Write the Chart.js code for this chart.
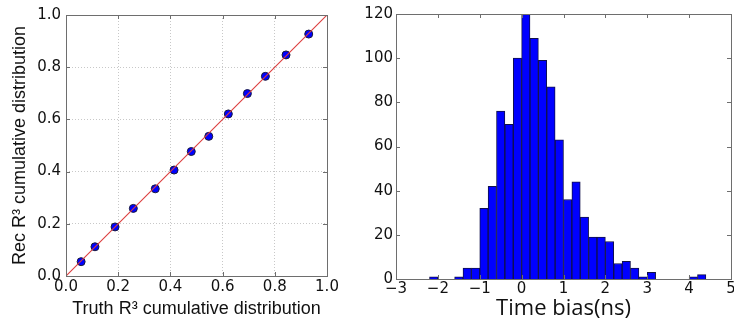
<!DOCTYPE html>
<html><head><meta charset="utf-8">
<script src="https://cdn.jsdelivr.net/npm/chart.js@4/dist/chart.umd.min.js"></script>
<style>
html,body{margin:0;padding:0;background:#fff;}
#wrap{position:relative;width:734px;height:325px;overflow:hidden;}
#c1{position:absolute;left:0;top:0;}
#c2{position:absolute;left:340px;top:0;}
</style></head><body>
<div id="wrap"><canvas id="c1" width="340" height="325"></canvas><canvas id="c2" width="394" height="325"></canvas></div>
<script>
// Left panel: cumulative distribution comparison
const truthCdf = [0.058,0.111,0.188,0.258,0.342,0.414,0.480,0.547,0.622,0.695,0.764,0.843,0.930];
const recCdf   = [0.055,0.112,0.188,0.259,0.334,0.406,0.477,0.535,0.621,0.699,0.765,0.847,0.927];
const diagX = [0, 1];
const diagY = [0, 1];
const cdfTicks = [0, 0.2, 0.4, 0.6, 0.8, 1.0];

// Right panel: time bias histogram (bin width 0.2 ns)
const binLeftEdges = [-2.2,-2.0,-1.8,-1.6,-1.4,-1.2,-1.0,-0.8,-0.6,-0.4,-0.2,0.0,0.2,0.4,0.6,0.8,1.0,1.2,1.4,1.6,1.8,2.0,2.2,2.4,2.6,2.8,3.0,3.2,3.4,3.6,3.8,4.0,4.2];
const binCounts    = [1,0,0,1,5,5,32,42,76,70,100,120,109,99,87,63,36,44,28,19,19,17,7,8,5,1,3,0,0,0,0,1,2];
const binWidth = 0.2;
const biasTicks = [-3,-2,-1,0,1,2,3,4,5];
const countTicks = [0,20,40,60,80,100,120];

const boxAndTicks = {
  id: 'boxAndTicks',
  afterDatasetsDraw(chart) {
    const {ctx, chartArea: a, scales: {x, y}} = chart;
    ctx.save();
    ctx.strokeStyle = '#6e6e6e';
    ctx.lineWidth = 1;
    const L = 4;
    ctx.beginPath();
    x.ticks.forEach(t => {
      const p = Math.round(x.getPixelForValue(t.value)) + 0.5;
      ctx.moveTo(p, a.bottom); ctx.lineTo(p, a.bottom - L);
      ctx.moveTo(p, a.top); ctx.lineTo(p, a.top + L);
    });
    y.ticks.forEach(t => {
      const p = Math.round(y.getPixelForValue(t.value)) + 0.5;
      ctx.moveTo(a.left, p); ctx.lineTo(a.left + L, p);
      ctx.moveTo(a.right, p); ctx.lineTo(a.right - L, p);
    });
    ctx.stroke();
    ctx.strokeRect(Math.round(a.left) + 0.5, Math.round(a.top) + 0.5, Math.round(a.right - a.left), Math.round(a.bottom - a.top));
    ctx.restore();
  }
};

const tickFont = {family: 'DejaVu Sans', size: 15};
const minus = v => String(v).replace('-', '\u2212');

new Chart(document.getElementById('c1'), {
  type: 'scatter',
  data: {
    datasets: [
      {
        type: 'line',
        data: diagX.map((v, i) => ({x: v, y: diagY[i]})),
        borderColor: '#dc3c3c',
        borderWidth: 1.1,
        pointRadius: 0,
        showLine: true,
        fill: false
      },
      {
        data: truthCdf.map((v, i) => ({x: v, y: recCdf[i]})),
        backgroundColor: '#0000ff',
        borderColor: '#1a1a3a',
        borderWidth: 1,
        pointRadius: 4
      }
    ]
  },
  options: {
    responsive: false,
    animation: false,
    events: [],
    layout: {padding: {left: 0, top: 15, right: 13, bottom: 0}},
    plugins: {legend: {display: false}, tooltip: {enabled: false}},
    scales: {
      x: {
        type: 'linear', min: 0, max: 1,
        afterBuildTicks: s => { s.ticks = cdfTicks.map(v => ({value: v})); },
        afterFit: s => { s.height = 49; s.paddingLeft = 0; s.paddingRight = 0; },
        grid: {color: '#c8c8c8', drawTicks: false, tickLength: 0},
        border: {display: false, dash: [1, 2]},
        ticks: {font: tickFont, color: '#111', padding: 2, maxRotation: 0, autoSkip: false,
                callback: v => v.toFixed(1)},
        title: {display: true, text: 'Truth R\u00b3 cumulative distribution',
                font: {family: 'Liberation Sans', size: 18}, color: '#111', padding: {top: 0, bottom: 5}}
      },
      y: {
        type: 'linear', min: 0, max: 1,
        afterBuildTicks: s => { s.ticks = cdfTicks.map(v => ({value: v})); },
        afterFit: s => { s.width = 66; s.paddingTop = 0; s.paddingBottom = 0; },
        grid: {color: '#c8c8c8', drawTicks: false, tickLength: 0},
        border: {display: false, dash: [1, 2]},
        ticks: {font: tickFont, color: '#111', padding: 5, autoSkip: false,
                callback: v => v.toFixed(1)},
        title: {display: true, text: 'Rec R\u00b3 cumulative distribution',
                font: {family: 'Liberation Sans', size: 18}, color: '#111', padding: {top: 9, bottom: 0}}
      }
    }
  },
  plugins: [boxAndTicks]
});

const histData = [];
binLeftEdges.forEach((e, i) => {
  if (binCounts[i] > 0) histData.push({x: +(e + binWidth / 2).toFixed(3), y: binCounts[i]});
});

new Chart(document.getElementById('c2'), {
  type: 'bar',
  data: {
    datasets: [{
      data: histData,
      backgroundColor: '#0000ff',
      borderColor: '#10104a',
      borderWidth: 1,
      borderSkipped: 'start',
      barPercentage: 1,
      categoryPercentage: 1
    }]
  },
  options: {
    responsive: false,
    animation: false,
    events: [],
    layout: {padding: {left: 0, top: 14, right: 3, bottom: 0}},
    plugins: {legend: {display: false}, tooltip: {enabled: false}},
    scales: {
      x: {
        type: 'linear', min: -3, max: 5, offset: false,
        afterBuildTicks: s => { s.ticks = biasTicks.map(v => ({value: v})); },
        afterFit: s => { s.height = 46; s.paddingLeft = 0; s.paddingRight = 0; },
        grid: {display: false, drawTicks: false, tickLength: 0},
        border: {display: false},
        ticks: {font: tickFont, color: '#111', padding: 1, maxRotation: 0, autoSkip: false,
                callback: v => minus(v)},
        title: {display: true, text: 'Time bias(ns)',
                font: {family: 'Open Sans', size: 22}, color: '#111', padding: {top: 0, bottom: 3}}
      },
      y: {
        type: 'linear', min: 0, max: 120,
        afterBuildTicks: s => { s.ticks = countTicks.map(v => ({value: v})); },
        afterFit: s => { s.width = 56; s.paddingTop = 0; s.paddingBottom = 0; },
        grid: {display: false, drawTicks: false, tickLength: 0},
        border: {display: false},
        ticks: {font: tickFont, color: '#111', padding: 3, autoSkip: false}
      }
    }
  },
  plugins: [boxAndTicks]
});
</script>
</body></html>
